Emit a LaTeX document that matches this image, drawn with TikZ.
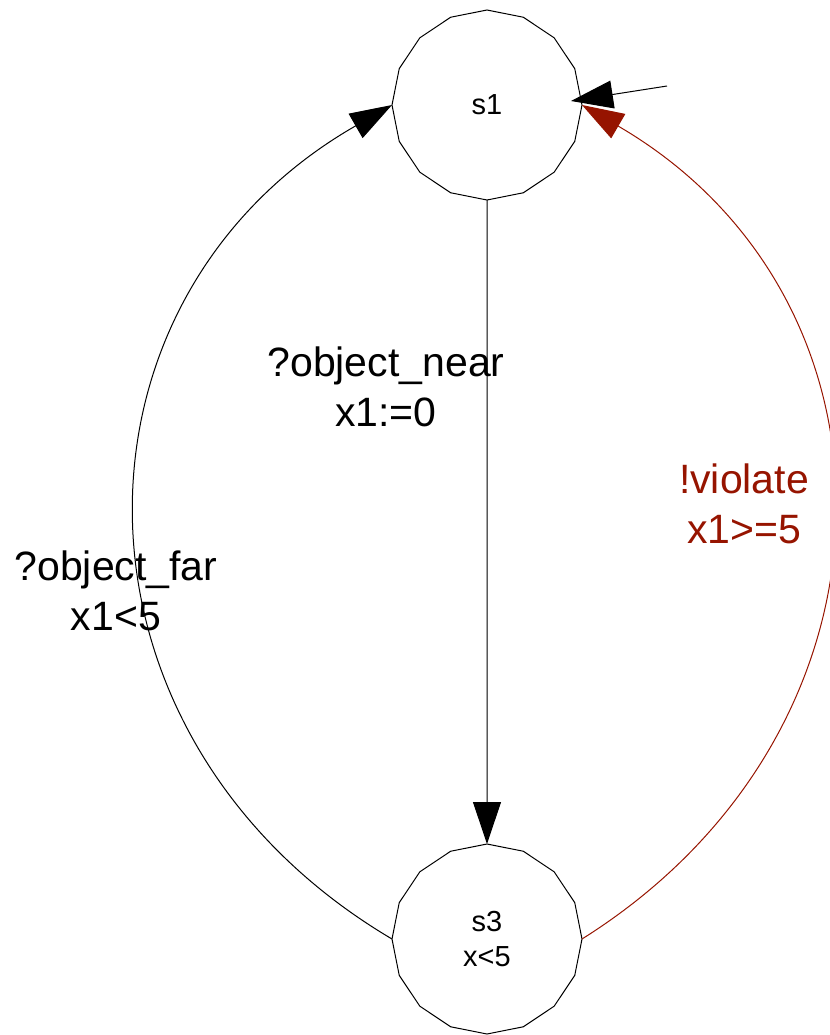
\documentclass[tikz,border=0pt]{standalone}
\usepackage{fontspec}
\setmainfont{Liberation Sans}
\usetikzlibrary{shapes.geometric,arrows.meta}
\definecolor{violatered}{RGB}{150,20,0}
\begin{document}
\begin{tikzpicture}[
    x=0.5pt, y=-0.5pt,
    state node/.style={draw, line width=0.5pt, regular polygon, regular polygon sides=16,
        shape border rotate=11.25, minimum size=95pt, inner sep=0pt, outer sep=0pt,
        font=\fontsize{14.5}{17.5}\selectfont, align=center},
    guard node/.style={font=\fontsize{20.5}{25}\selectfont, align=center},
    edge line/.style={color=black, line width=0.5pt, -{Triangle[length=21pt,width=14pt]}},
    violate line/.style={edge line, color=violatered}
]

%================CONFIGURATION================
% picture measured in pixels, y grows downwards
\def\bulgeleft{52}   % control x of left loop
\def\bulgeright{915} % control x of right loop
%=============================================

\useasboundingbox (0,0) rectangle (830,1035);

% --- 1. States ---
\node[state node] (s1) at (487,105) {s1};
\node[state node] (s3) at (487,939) {s3\\x<5};

% --- 2. Initial arrow ---
\coordinate (init) at (667,86);
\draw[edge line] (init) -- ([shift={(-11,-4)}]s1.east);

% --- 3. Transitions ---
\draw[edge line] (s1.south) -- (s3.north);
\draw[edge line] (s3.west) .. controls (\bulgeleft,738) and (\bulgeleft,300) .. (s1.west);
\draw[violate line] (s3.east) .. controls (\bulgeright,730) and (\bulgeright,299) .. (s1.east);

% --- 4. Guards and syncs ---
\node[guard node] (near) at (386,387) {?object\_near\\x1:=0};
\node[guard node] (far) at (116,591) {?object\_far\\x1<5};
\node[guard node, text=violatered] (viol) at (744,504) {!violate\\x1>=5};

\end{tikzpicture}
\end{document}
